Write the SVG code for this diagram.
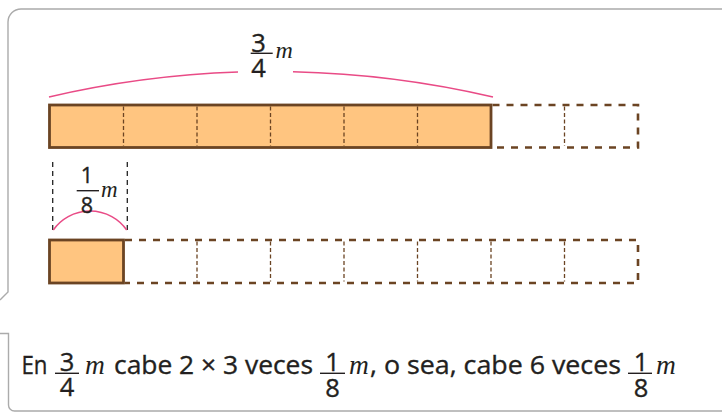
<svg xmlns="http://www.w3.org/2000/svg" width="722" height="412" viewBox="0 0 722 412">
<style>
.frame{fill:none;stroke:#ababab;stroke-width:1.4}
.cell{fill:#FFC580;stroke:#6B4423;stroke-width:2.8}
.edge{fill:none;stroke:#6B4423;stroke-width:2.6;stroke-dasharray:7 7}
.div{fill:none;stroke:#6B4423;stroke-width:1.3;stroke-dasharray:4 2.5}
.arc{fill:none;stroke:#E94B86;stroke-width:1.5}
.guide{fill:none;stroke:#222;stroke-width:1.3;stroke-dasharray:5 4}
.bar{stroke:#231F20;stroke-width:1.4}
.sans{font-family:"Open Sans","Liberation Sans",sans-serif;fill:#231F20;stroke:#231F20;stroke-width:0.35}
.ital{font-family:"Liberation Serif",serif;font-style:italic;fill:#231F20}
</style>
<g id="frame">
<path class="frame" d="M722,9 H21 A13,13 0 0,0 8,22 V292 L0,300"/>
<path class="frame" d="M0,333.5 H8.5 V405 A6,6 0 0,0 14.5,411 H722"/>
</g>
<g id="bar-top">
<rect class="cell" x="49.5" y="105" width="441.5" height="42.5"/>
<path class="div" d="M123.5,106.5V146M197,106.5V146M270.5,106.5V146M344,106.5V146M417.5,106.5V146M564.5,106.5V146"/>
<path class="edge" d="M492.5,105H638V147.5H492.5"/>
</g>
<g id="bar-bottom">
<rect class="cell" x="49.5" y="240" width="74" height="43"/>
<path class="div" d="M197,241.5V281.5M270.5,241.5V281.5M344,241.5V281.5M417.5,241.5V281.5M491,241.5V281.5M564.5,241.5V281.5"/>
<path class="edge" d="M125,240H638V283H125"/>
</g>
<g id="connectors">
<path class="arc" d="M49,97 A979,979 0 0,1 238,72.06"/>
<path class="arc" d="M293,71.75 A979,979 0 0,1 493,97"/>
<path class="guide" d="M52.7,162V230M127.3,162V230"/>
<path class="arc" d="M53.3,230 A45,45 0 0,1 126.7,230"/>
</g>
<g id="label-three-quarters">
<text class="sans" x="258.5" y="51.7" font-size="25.5" text-anchor="middle">3</text>
<line class="bar" x1="250.7" y1="53.3" x2="272.7" y2="53.3"/>
<text class="sans" x="258.5" y="76.7" font-size="25.5" text-anchor="middle">4</text>
<text class="ital" x="275.5" y="58.3" font-size="24">m</text>
</g>
<g id="label-one-eighth">
<text class="sans" x="87" y="183.3" font-size="21.5" text-anchor="middle">1</text>
<line class="bar" x1="76.7" y1="190.7" x2="99" y2="190.7"/>
<text class="sans" x="87" y="213.3" font-size="21.5" text-anchor="middle">8</text>
<text class="ital" x="101" y="197.3" font-size="23">m</text>
</g>
<g id="sentence">
<text class="sans" x="21.5" y="374" font-size="25.5" textLength="26" lengthAdjust="spacingAndGlyphs">En</text>
<text class="sans" x="67" y="370.7" font-size="25.5" text-anchor="middle">3</text>
<line class="bar" x1="55" y1="373.3" x2="79" y2="373.3"/>
<text class="sans" x="67" y="395.5" font-size="25.5" text-anchor="middle">4</text>
<text class="ital" x="85" y="374" font-size="27.5">m</text>
<text class="sans" x="114" y="374" font-size="25.5" textLength="199" lengthAdjust="spacingAndGlyphs">cabe 2 × 3 veces</text>
<text class="sans" x="332.5" y="370.7" font-size="25.5" text-anchor="middle">1</text>
<line class="bar" x1="320" y1="373.3" x2="345" y2="373.3"/>
<text class="sans" x="332.5" y="396.5" font-size="25.5" text-anchor="middle">8</text>
<text class="ital" x="349" y="374" font-size="27.5">m</text>
<text class="sans" x="370" y="374" font-size="25.5" textLength="251" lengthAdjust="spacingAndGlyphs">, o sea, cabe 6 veces</text>
<text class="sans" x="641" y="370.7" font-size="25.5" text-anchor="middle">1</text>
<line class="bar" x1="628" y1="373.3" x2="652" y2="373.3"/>
<text class="sans" x="641" y="396.5" font-size="25.5" text-anchor="middle">8</text>
<text class="ital" x="656" y="374" font-size="27.5">m</text>
</g>
</svg>
